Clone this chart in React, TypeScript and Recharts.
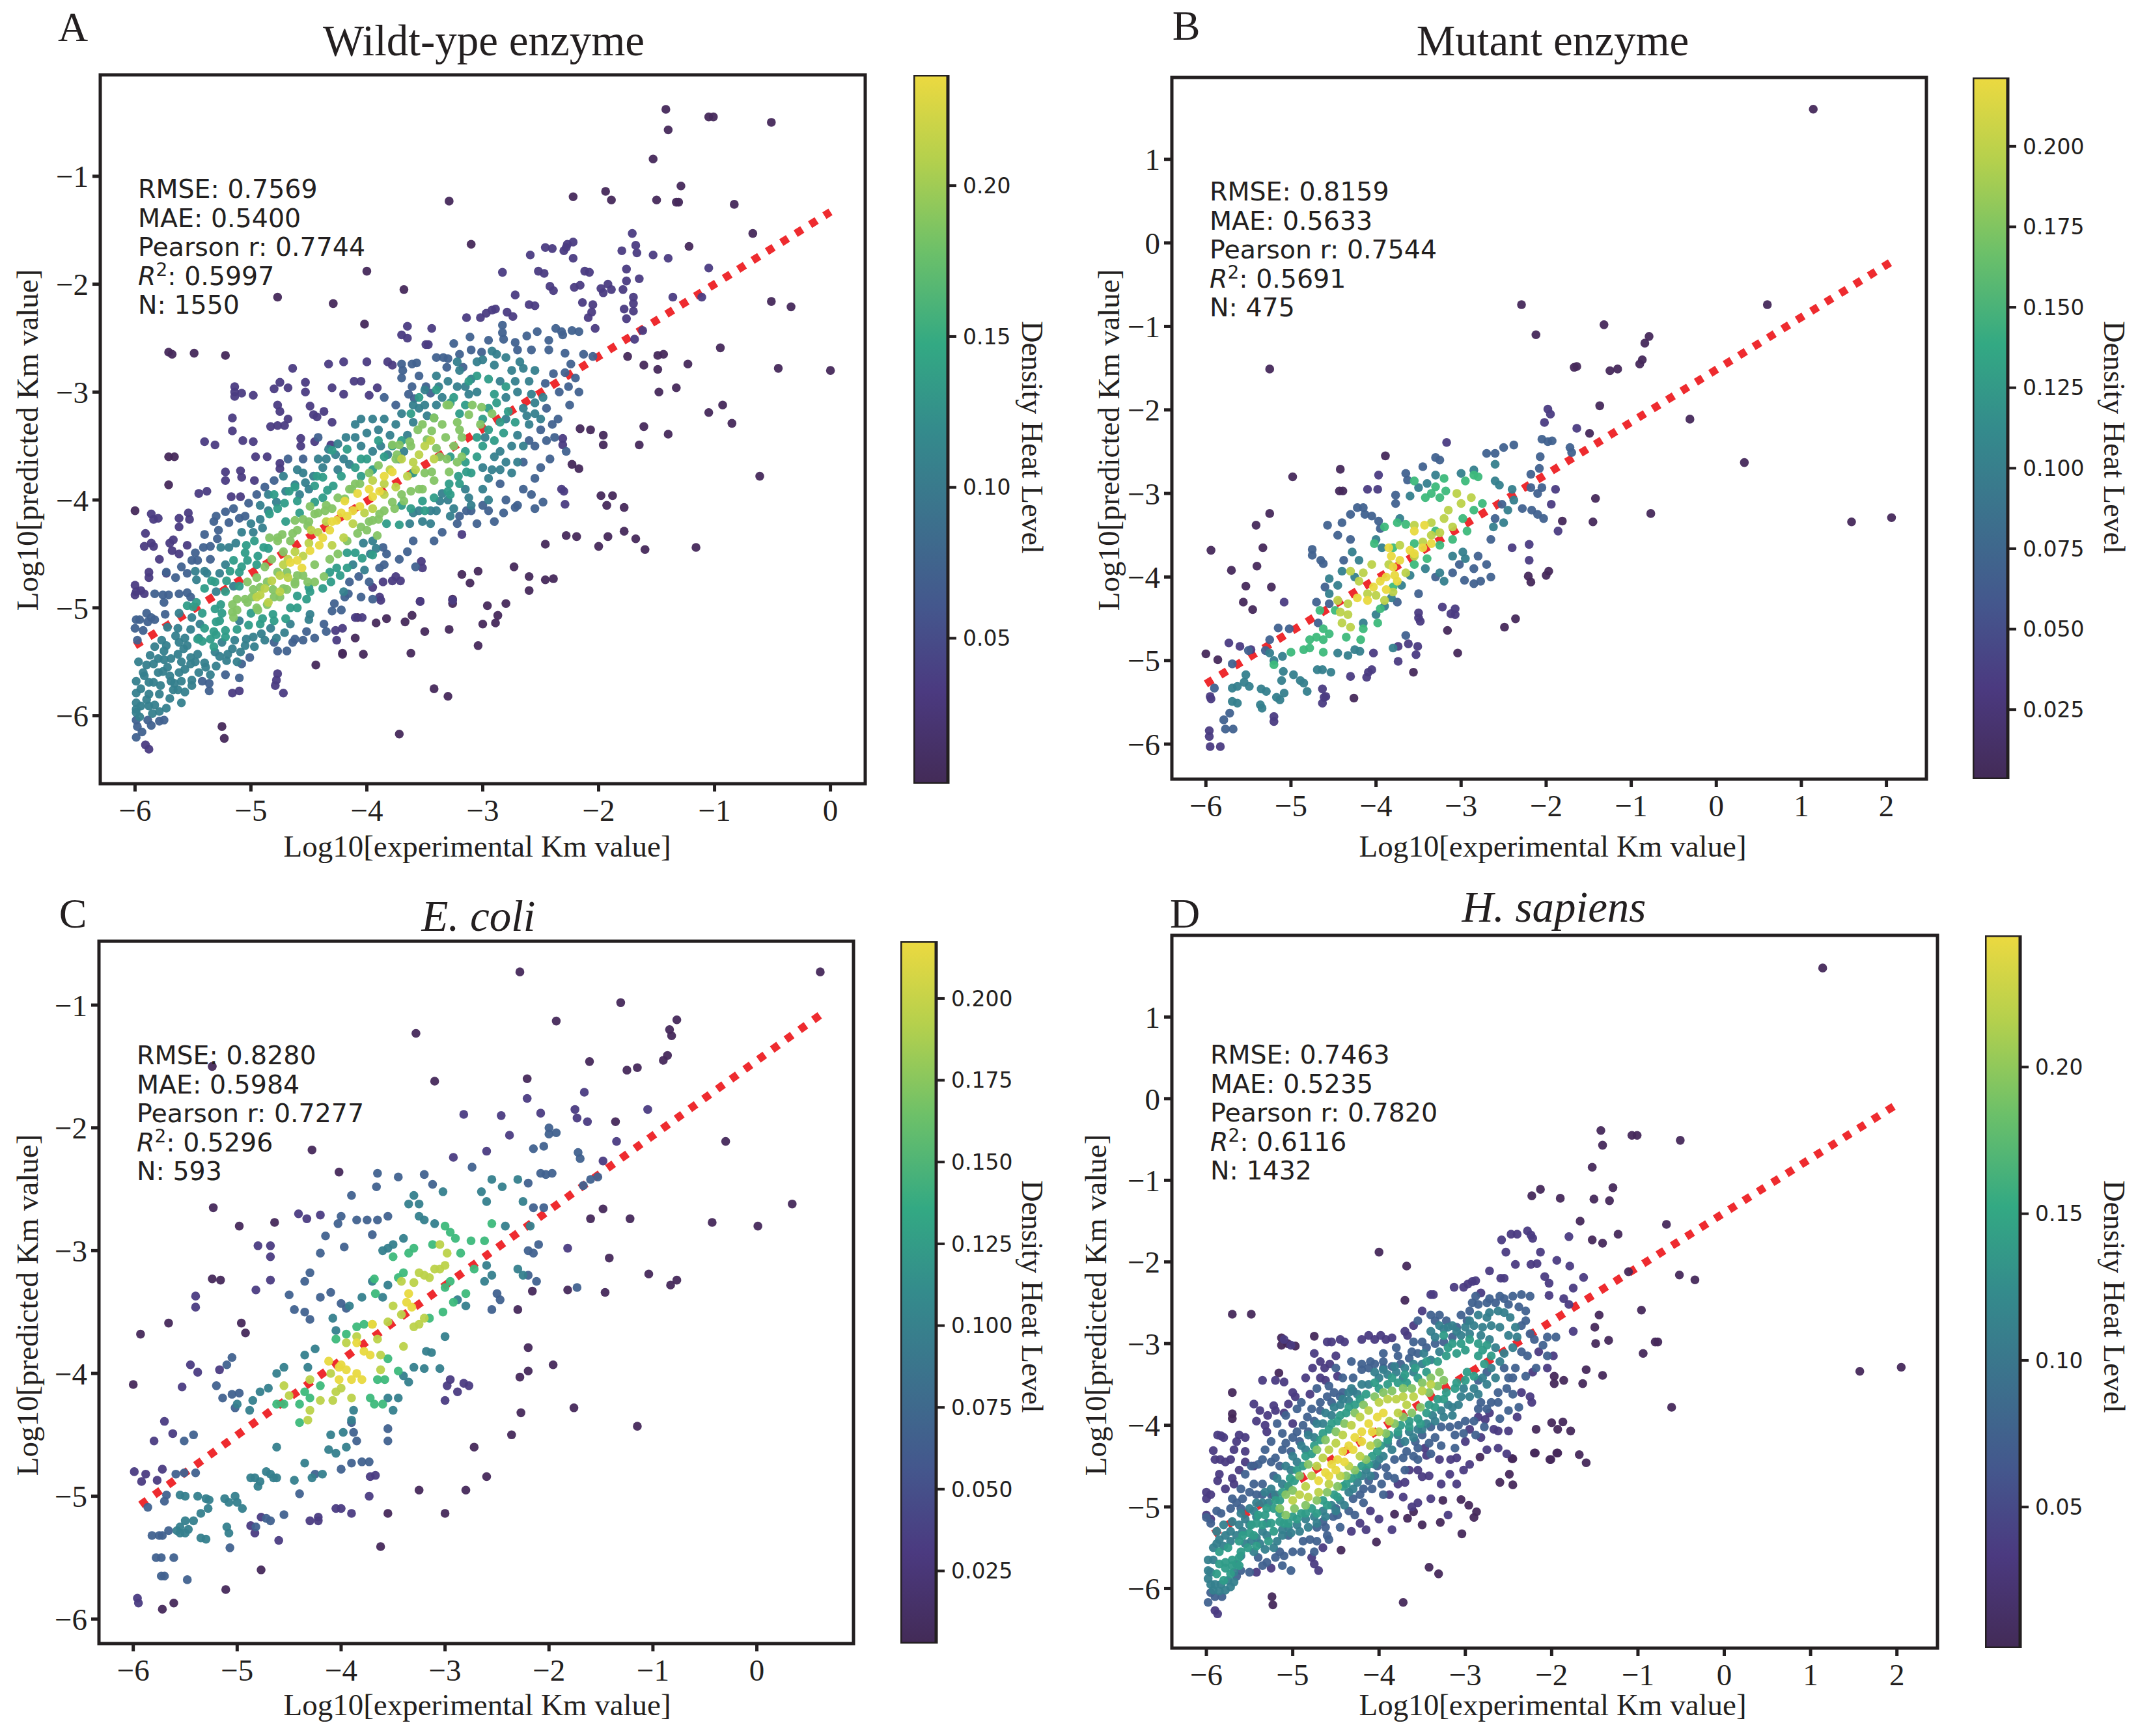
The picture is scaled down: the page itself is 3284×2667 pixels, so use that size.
import { ScatterChart, Scatter, BarChart, Bar, XAxis, YAxis, ReferenceLine, ReferenceArea } from 'recharts';

type Pt = [number, number];

// density colours, low to high (viridis as it prints in the figure)
const BAND_COLORS = ['#46295b', '#4b3c82', '#41628f', '#35808d', '#2f9c88', '#3db97b', '#84c465', '#bcd24a', '#e8d93f'];
const INK = '#231f20';
const LINE_RED = '#ee2b2f';

// ── Wild-type ──
const wildDark: Pt[] = [[-1.42,-.38],[-1.05,-.45],[-1.01,-.45],[-.51,-.5],[-1.4,-.57],[-1.53,-.84],[-1.29,-1.09],[-1.94,-1.14],[-1.89,-1.22],[-2.22,-1.19],[-3.29,-1.23],[-1.5,-1.22],[-1.33,-1.24],[-1.31,-1.24],[-.83,-1.26],[-.67,-1.53],[-3.1,-1.63],[-1.22,-1.65],[-4,-1.88],[-4.77,-2.12],[-4.29,-2.18],[-.51,-2.16],[-.34,-2.21],[-3.68,-2.05],[-4.02,-2.37],[-.95,-2.59],[-5.71,-2.63],[-5.68,-2.65],[-5.49,-2.64],[-5.22,-2.66],[-1.44,-2.65],[-1.49,-2.66],[-1.75,-2.67],[-1.23,-2.74],[-1.61,-2.75],[-1.49,-2.79],[-.45,-2.78],[0,-2.8],[-.93,-3.12],[-1.05,-3.19],[-.85,-3.29],[-1.33,-2.96],[-1.48,-3],[-1.61,-3.32],[-1.4,-3.39],[-1.65,-3.49],[-.61,-3.78],[-1.96,-3.49],[-1.96,-3.4],[-2.07,-3.35],[-2.16,-3.34],[-2.23,-3.67],[-2.17,-3.71],[-1.98,-3.96],[-1.88,-3.96],[-1.93,-4.05],[-1.78,-4.07],[-1.78,-4.29],[-1.68,-4.36],[-1.6,-4.46],[-1.16,-4.44],[-1.92,-4.34],[-2,-4.43],[-2.19,-4.34],[-2.28,-4.33],[-2.46,-4.41],[-2.73,-4.62],[-3.18,-4.69],[-3.04,-4.66],[-3.11,-4.77],[-2.6,-4.71],[-2.46,-4.74],[-2.39,-4.73],[-2.6,-4.84],[-3.26,-4.92],[-3.26,-4.96],[-2.8,-4.96],[-2.96,-4.98],[-2.87,-5.07],[-2.89,-5.14],[-3,-5.15],[-3.29,-5.2],[-3.04,-5.35],[-3.42,-5.75],[-3.3,-5.82],[-3.72,-6.17],[-5.25,-6.1],[-5.23,-6.21],[-3.62,-5.42],[-3.5,-5.22],[-3.61,-5.07],[-3.67,-5.13],[-3.54,-4.94],[-3.83,-5.1],[-3.92,-5.14],[-4.03,-5.43],[-4.1,-5.28],[-4.08,-5.09],[-4.21,-5.42],[-4.21,-5.43],[-4.44,-5.53],[-6,-4.1],[-5.71,-3.6],[-5.66,-3.6],[-5.71,-3.86]];
const wildPurple: Pt[] = [[-1.71,-1.53],[-1.68,-1.64],[-1.67,-1.71],[-1.8,-1.69],[-1.53,-1.73],[-1.4,-1.76],[-2.59,-1.73],[-2.46,-1.66],[-2.4,-1.67],[-2.3,-1.69],[-2.27,-1.63],[-2.22,-1.61],[-2.28,-1.66],[-2.22,-1.76],[-2.83,-1.89],[-1.05,-1.85],[-1.76,-1.86],[-2.52,-1.88],[-2.47,-1.9],[-2.12,-1.88],[-2.08,-1.89],[-1.65,-1.95],[-1.76,-1.97],[-1.92,-2],[-2.21,-2.03],[-2.16,-2.01],[-2.42,-2.02],[-2.39,-2.06],[-1.98,-2.04],[-1.96,-2.08],[-1.89,-2.05],[-1.79,-2.05],[-1.7,-2.12],[-1.36,-2.12],[-1.11,-2.12],[-2.72,-2.1],[-2.6,-2.19],[-2.55,-2.2],[-2.14,-2.17],[-2.05,-2.19],[-1.78,-2.23],[-1.7,-2.25],[-1.7,-2.18],[-2.06,-2.26],[-2.09,-2.31],[-3.02,-2.31],[-2.97,-2.27],[-2.92,-2.24],[-2.89,-2.23],[-2.79,-2.26],[-2.74,-2.3],[-3.14,-2.31],[-1.76,-2.32],[-3.65,-2.39],[-3.44,-2.41],[-3.7,-2.47],[-3.65,-2.5],[-3.49,-2.56],[-3.47,-2.56],[-2.03,-2.41],[-1.62,-2.43],[-1.69,-2.51],[-4.64,-2.78],[-4.33,-2.74],[-4.2,-2.72],[-4,-2.72],[-3.82,-2.72],[-3.78,-2.75],[-5.14,-2.95],[-5.14,-3],[-5.14,-3.04],[-5.08,-3.01],[-4.98,-3.03],[-4.8,-2.97],[-4.75,-2.91],[-4.68,-2.96],[-4.53,-2.91],[-4.53,-3],[-4.3,-2.96],[-4.2,-3.02],[-4.11,-2.9],[-4.05,-2.9],[-3.91,-2.96],[-3.98,-3.03],[-4.77,-3.12],[-4.75,-3.18],[-4.49,-3.13],[-4.46,-3.21],[-4.43,-3.23],[-4.37,-3.18],[-4.3,-3.28],[-4.68,-3.25],[-4.83,-3.32],[-4.77,-3.31],[-4.71,-3.31],[-5.16,-3.24],[-5.16,-3.36],[-5.4,-3.46],[-5.31,-3.49],[-5.07,-3.45],[-4.98,-3.46],[-4.86,-3.6],[-4.96,-3.6],[-4.57,-3.43],[-4.57,-3.5],[-4.45,-3.46],[-4.31,-3.49],[-4.75,-3.66],[-4.75,-3.71],[-5.22,-3.74],[-5.09,-3.73],[-5.08,-3.79],[-5.22,-3.82],[-4.97,-3.82],[-5.45,-3.94],[-5.38,-3.92],[-5.17,-3.97],[-5.09,-3.97],[-5.86,-4.13],[-5.84,-4.18],[-5.8,-4.17],[-5.54,-4.12],[-5.62,-4.17],[-5.62,-4.25],[-5.53,-4.18],[-5.91,-4.31],[-5.67,-4.37],[-5.7,-4.4],[-5.86,-4.4],[-5.92,-4.43],[-5.84,-4.43],[-5.79,-4.55],[-5.68,-4.47],[-5.62,-4.5],[-5.55,-4.42],[-5.88,-4.67],[-5.88,-4.72],[-5.73,-4.68],[-6,-4.79],[-6,-4.88],[-5.95,-4.84],[-5.92,-4.87],[-5.99,-4.85],[-3.89,-4.9],[-3.88,-4.93],[-3.95,-4.81],[-3.86,-4.76],[-3.78,-4.75],[-3.71,-4.75],[-3.75,-4.71],[-3.53,-4.57],[-3.52,-4.63],[-3.18,-4.32],[-3.54,-4.94],[-3.26,-4.93],[-4.1,-5.09],[-4.04,-5.09],[-4.26,-5.3],[-4.27,-5.21],[-4.21,-5.19],[-4.77,-5.61],[-4.78,-5.67],[-4.79,-5.72],[-4.72,-5.79],[-5.16,-5.79],[-5.1,-5.77],[-5.91,-6.27],[-5.88,-6.31],[-2.31,-3.49],[-2.31,-3.43],[-2.32,-3.9],[-2.3,-3.92],[-2.29,-4.04]];
const wildBlue: Pt[] = [[-2.53,-2.44],[-2.37,-2.41],[-2.32,-2.44],[-2.23,-2.43],[-2.17,-2.44],[-2.31,-2.47],[-2.43,-2.52],[-2.58,-2.61],[-2.43,-2.61],[-2.29,-2.64],[-2.13,-2.65],[-2.05,-2.67],[-2.24,-2.74],[-2.29,-2.82],[-2.2,-2.87],[-2.17,-3],[-2.26,-2.95],[-2.34,-3],[-2.39,-2.83],[-2.46,-2.92],[-2.83,-2.38],[-2.83,-2.45],[-3.11,-2.49],[-2.82,-2.51],[-2.72,-2.54],[-2.7,-2.61],[-3.1,-2.61],[-3.01,-2.63],[-3.4,-2.68],[-3.34,-2.68],[-3.3,-2.69],[-3.31,-2.77],[-3.17,-2.77],[-3.7,-2.74],[-3.61,-2.74],[-3.57,-2.73],[-3.69,-2.8],[-3.7,-2.87],[-3.61,-2.95],[-3.64,-3.02],[-3.49,-2.95],[-3.45,-3.01],[-3.59,-3.06],[-5.99,-5.11],[-5.96,-5.11],[-6,-5.19],[-5.98,-5.3],[-5.86,-5.09],[-5.83,-5.11],[-5.93,-5.21],[-5.89,-5.13],[-5.74,-5.06],[-5.83,-4.87],[-5.76,-4.88],[-5.71,-4.88],[-5.75,-4.95],[-5.62,-4.87],[-5.55,-4.86],[-5.52,-4.9],[-5.46,-4.56],[-5.48,-4.49],[-5.41,-4.44],[-5.35,-4.43],[-5.29,-4.36],[-5.28,-4.28],[-5.51,-4.56],[-5.73,-4.67],[-5.22,-4.11],[-5.3,-4.15],[-5.19,-4.21],[-5.1,-4.17],[-5.05,-4.15],[-5.36,-5.77],[-5.42,-5.68],[-5.36,-5.7],[-5.22,-5.62],[-5.1,-5.65],[-5.08,-5.52],[-5.01,-5.46],[-4.8,-5.32],[-4.77,-5.4],[-4.69,-5.4],[-4.64,-5.32],[-4.62,-5.29],[-4.45,-5.28],[-4.37,-5.15],[-4.3,-5.03],[-4.19,-4.9],[-4.16,-4.87],[-4.28,-4.96],[-4.07,-4.71],[-4.15,-4.76],[-3.98,-4.76],[-3.89,-4.63],[-3.85,-4.6],[-5.99,-6.2],[-5.94,-6.15],[-5.98,-6.1],[-5.99,-6.04],[-2.5,-3.35],[-2.4,-3.3],[-2.45,-3.15],[-2.35,-3.25],[-2.45,-3.45],[-2.55,-3.5],[-2.6,-3.45],[-2.65,-3.65],[-2.55,-3.8],[-2.65,-3.9],[-2.7,-4.05],[-2.85,-3.85],[-2.8,-4],[-2.95,-4.1],[-2.9,-4.2],[-3.1,-4.1],[-3.2,-4.15],[-3,-4.05],[-3.14,-4.1],[-2.72,-4.07],[-3.22,-4.22],[-3.83,-4.5],[-3.86,-4.44],[-5.89,-6.04],[-5.86,-6.09],[-5.79,-6.05],[-5.75,-6.04],[-3.85,-3.05],[-3.75,-3.12],[-3.55,-2.85],[-3.25,-2.55],[-3.2,-2.65],[-2.95,-2.52],[-2.62,-2.48],[-2.25,-3.12],[-2.28,-3.55],[-2.42,-3.62],[-2.5,-3.7],[-2.38,-3.42],[-2.58,-3.95],[-2.48,-4.02],[-2.55,-4.08],[-2.82,-4.12],[-3.05,-4.22],[-3.35,-4.3],[-3.42,-4.38],[-3.6,-4.38],[-3.65,-4.48],[-3.72,-4.55],[-3.58,-4.62],[-4.42,-3.42],[-4.55,-3.62],[-4.68,-3.62],[-4.8,-3.82],[-4.88,-3.88],[-4.95,-3.95],[-5.02,-4.03],[-5.15,-4.08],[-5.32,-4.2],[-5.4,-4.32],[-5.55,-4.68],[-5.65,-4.72],[-5.6,-4.62],[-5.35,-4.55],[-5.9,-5.05],[-4.52,-5.22],[-4.55,-5.3],[-4.35,-5.22],[-4.22,-5.02],[-4.05,-4.9],[-3.95,-4.92]];
const wildTeal: Pt[] = [[-5.99,-5.68],[-5.92,-5.63],[-5.88,-5.69],[-5.84,-5.69],[-5.78,-5.72],[-5.88,-5.8],[-5.99,-5.79],[-5.79,-5.8],[-5.99,-5.88],[-5.99,-5.94],[-5.99,-5.97],[-5.95,-5.91],[-5.88,-5.91],[-5.83,-5.9],[-5.79,-5.96],[-5.73,-5.93],[-5.96,-6.01],[-5.97,-5.5],[-5.9,-5.53],[-5.84,-5.52],[-5.8,-5.47],[-5.87,-5.44],[-5.76,-5.59],[-5.7,-5.63],[-5.69,-5.68],[-5.62,-5.6],[-5.57,-5.57],[-5.52,-5.52],[-5.51,-5.67],[-5.51,-5.72],[-5.67,-5.76],[-5.63,-5.76],[-5.57,-5.78],[-5.7,-5.84],[-5.6,-5.88],[-5.73,-5.35],[-5.77,-5.3],[-5.83,-5.36],[-5.75,-5.4],[-5.69,-5.47],[-5.63,-5.43],[-5.58,-5.38],[-5.62,-5.32],[-5.57,-5.28],[-5.52,-5.2],[-5.51,-5.09],[-5.63,-5.19],[-5.46,-5.43],[-5.52,-5.46],[-5.4,-5.51],[-5.39,-5.55],[-5.3,-5.54],[-5.21,-5.49],[-5.16,-5.38],[-5.2,-5.43],[-5.31,-5.41],[-5.27,-5.45],[-5.09,-5.41],[-5.14,-5.3],[-5.04,-5.29],[-4.97,-5.36],[-4.91,-5.24],[-4.83,-5.19],[-4.71,-5.23],[-4.66,-5.15],[-5.48,-4.66],[-5.4,-4.66],[-5.47,-4.74],[-5.27,-4.68],[-5.26,-4.44],[-5.19,-4.44],[-5.13,-4.4],[-4.49,-5.06],[-4.5,-5.11],[-3.95,-4.38],[-4.03,-4.4],[-3.97,-4.5],[-3,-2.7],[-2.9,-2.75],[-2.85,-2.9],[-2.75,-2.8],[-2.65,-2.78],[-2.55,-2.8],[-2.6,-2.9],[-2.7,-3],[-2.8,-3.05],[-2.65,-3.15],[-2.55,-3.1],[-2.5,-3.25],[-2.6,-3.3],[-2.7,-3.4],[-2.75,-3.5],[-2.85,-3.55],[-2.7,-3.65],[-2.75,-3.75],[-2.95,-3.8],[-3,-3.9],[-2.95,-4],[-3.1,-4.05],[-3.15,-3.9],[-3,-3.7],[-3.2,-2.8],[-3.15,-2.95],[-3.05,-3],[-3.3,-2.9],[-3.4,-2.85],[-3.5,-2.98],[-3.35,-3.05],[-3.55,-3.15],[-3.7,-3.2],[-3.85,-3.25],[-3.95,-3.25],[-4.05,-3.25],[-4.1,-3.3],[-4,-3.38],[-3.9,-3.35],[-3.8,-3.4],[-3.75,-3.3],[-3.6,-3.28],[-3.65,-3.4],[-4.1,-3.42],[-4.05,-3.5],[-4.33,-3.53],[-4.27,-3.58],[-4.2,-3.62],[-4.15,-3.67],[-4.35,-3.62],[-4.38,-3.7],[-4.46,-3.78],[-4.53,-3.84],[-4.62,-3.86],[-4.7,-3.92],[-4.78,-4.02],[-4.85,-4.1],[-4.92,-4.18],[-5,-4.22],[-4.9,-4.26],[-3.35,-3.94],[-3.4,-4.1],[-3.52,-4.2],[-3.63,-4.22],[-3.37,-4.01],[-3.6,-4.12],[-5.95,-5.75],[-5.9,-5.85],[-5.85,-5.98],[-5.93,-5.6],[-5.8,-5.6],[-5.72,-5.55],[-5.66,-5.7],[-5.6,-5.68],[-5.75,-5.48],[-5.6,-5.5],[-5.55,-5.35],[-5.65,-5.26],[-5.45,-5.6],[-5.48,-5.5],[-5.35,-5.62],[-5.12,-5.5],[-5.25,-5.32],[-5.05,-5.35],[-4.88,-5.3],[-4.78,-5.28],[-4.98,-5.27],[-5.44,-5.15],[-5.38,-4.68],[-5.3,-4.85],[-5.22,-4.6],[-5.15,-4.8],[-5.08,-4.3],[-4.98,-4.3],[-4.92,-4.05],[-4.85,-3.95],[-4.72,-3.78],[-4.6,-3.72],[-4.58,-3.95],[-4.5,-3.9],[-4.25,-3.72],[-3.95,-3.55],[-3.72,-3.62],[-3.82,-3.58],[-3.55,-4.1],[-3.45,-4.1],[-3.3,-4],[-3.25,-4.08],[-4.2,-4.85],[-4.12,-4.6],[-4.02,-4.65],[-3.92,-4.45],[-2.9,-3.6],[-2.8,-3.65],[-2.65,-3.5],[-2.58,-3.02],[-2.48,-3.05],[-2.72,-2.9],[-2.88,-2.65],[-3.05,-2.72],[-3.22,-2.95],[-3.12,-3.02],[-3.5,-3.12],[-3.6,-3.12],[-3.4,-3.12],[-2.98,-3.42],[-2.92,-3.72],[-2.85,-3.72],[-2.8,-3.25],[-2.62,-3.22],[-2.55,-3.2],[-2.92,-2.62],[-2.8,-2.68],[-2.68,-2.72],[-3.1,-2.88],[-3.22,-2.72],[-3.38,-2.95],[-3.48,-3.22],[-3.68,-3.55],[-3.88,-3.5],[-4.18,-3.42],[-4.25,-3.48],[-4.42,-3.62],[-4.55,-3.75],[-3.45,-4.22],[-3.28,-4.15],[-3.12,-3.98],[-5.62,-5.05],[-5.72,-5.18],[-5.45,-5.28],[-5.1,-5.12]];
const wildSea: Pt[] = [[-5.46,-5.29],[-5.42,-5.31],[-5.32,-5.36],[-5.35,-5.29],[-5.4,-5.19],[-5.32,-5.22],[-5.22,-5.21],[-5.22,-5.27],[-5.3,-5.13],[-5.27,-5.12],[-5.31,-5.01],[-5.26,-4.97],[-5.42,-5.05],[-5.5,-4.99],[-5.55,-4.98],[-5.47,-4.95],[-5.4,-4.82],[-5.34,-4.75],[-5.31,-4.76],[-5.21,-4.75],[-5.18,-4.66],[-5.1,-4.67],[-5.15,-4.56],[-5.03,-4.56],[-5.05,-4.49],[-5.04,-4.42],[-4.97,-4.38],[-4.94,-4.52],[-4.89,-4.44],[-4.84,-4.13],[-4.77,-4.08],[-4.8,-3.95],[-4.67,-3.92],[-4.6,-4.01],[-4.71,-4.03],[-4.43,-3.78],[-4.38,-3.79],[-4.17,-3.53],[-4.3,-3.54],[-4.45,-3.87],[-4.34,-3.91],[-4.29,-3.87],[-3.83,-4.22],[-3.72,-4.23],[-3.52,-4.01],[-3.29,-3.85],[-3.21,-3.78],[-3.14,-3.74],[-3.95,-4.51],[-4.04,-4.54],[-4.1,-4.49],[-4.17,-4.49],[-4.17,-4.63],[-4.26,-4.63],[-4.32,-4.67],[-4.23,-4.7],[-4.31,-4.76],[-4.38,-4.82],[-4.49,-4.85],[-4.5,-4.81],[-4.66,-5],[-4.6,-4.89],[-4.81,-5.06],[-4.92,-5.15],[-5.02,-5.16],[-5.12,-5.2],[-2.9,-3.02],[-2.95,-3.15],[-3,-3.25],[-2.85,-3.28],[-2.82,-3.38],[-2.9,-3.45],[-3,-3.5],[-3.05,-3.6],[-3.15,-3.55],[-3.1,-3.75],[-3.2,-3.85],[-3.28,-3.95],[-3.42,-3.24],[-3.25,-3.05],[-3.15,-3.12],[-3.4,-2.98],[-3.9,-3.45],[-3.78,-3.5],[-3.7,-3.45],[-3.85,-3.6],[-4,-3.62],[-4.1,-3.7],[-4.05,-3.78],[-3.6,-3.75],[-3.05,-2.85],[-2.95,-2.88],[-2.8,-2.95],[-3.28,-3.1],[-5.3,-5.25],[-5.25,-5.05],[-5.22,-4.85],[-5.1,-4.8],[-5,-5.05],[-4.9,-5.1],[-4.8,-5.12],[-4.7,-5.1],[-4.6,-5],[-4.52,-4.92],[-5.08,-4.62],[-4.95,-4.6],[-4.85,-4.45],[-4.7,-4.2],[-4.58,-4.12],[-4.62,-3.88],[-4.45,-4.02],[-4.38,-3.98],[-4.22,-3.78],[-4.05,-3.62],[-3.95,-3.72],[-3.7,-4.05],[-3.62,-4.08],[-3.5,-4.1],[-3.42,-3.98],[-3.3,-3.92],[-3.28,-3.6],[-3.15,-3.65],[-3.05,-3.42],[-2.95,-3.35],[-2.88,-3.1],[-2.78,-3.18],[-2.72,-3.28],[-3.12,-2.9],[-3.2,-3.2],[-3.55,-3.05],[-3.62,-3.2]];
const wildGreen: Pt[] = [[-5.12,-4.92],[-5.16,-5.04],[-5.15,-5.09],[-5.03,-4.76],[-4.98,-4.83],[-4.84,-4.35],[-4.77,-4.38],[-4.73,-4.32],[-4.64,-4.31],[-4.62,-4.19],[-4.49,-4.06],[-4.45,-4.76],[-4.37,-4.71],[-4.51,-4.76],[-3.91,-4.33],[-3.29,-3.74],[-3.22,-3.65],[-3.37,-3.6],[-3.52,-3.3],[-3.44,-3.36],[-3.72,-3.49],[-3.78,-3.49],[-3.56,-3.35],[-3.42,-3.24],[-3.31,-3.12],[-3.09,-3.12],[-3.12,-3.21],[-3.01,-3.14],[-3.29,-3.12],[-3.02,-3.3],[-2.92,-3.2],[-3.18,-3.42],[-3.25,-3.5],[-4.55,-4.18],[-4.5,-4.2],[-4.42,-4.12],[-4.35,-4.05],[-4.25,-3.98],[-4.15,-3.9],[-4.1,-3.85],[-3.98,-3.75],[-3.9,-3.68],[-3.75,-3.62],[-3.62,-3.5],[-4.05,-4.25],[-3.98,-4.2],[-3.9,-4.18],[-3.85,-4.1],[-3.78,-4.02],[-3.7,-3.95],[-3.62,-3.92],[-3.52,-3.9],[-3.42,-3.82],[-3.5,-3.75],[-4.25,-4.5],[-4.32,-4.55],[-4.45,-4.6],[-4.55,-4.7],[-4.62,-4.78],[-4.72,-4.82],[-4.8,-4.9],[-4.95,-5],[-5.05,-4.92],[-4.95,-4.72],[-4.88,-4.62],[-4.82,-4.55],[-4.72,-4.48],[-3.32,-3.42],[-3.4,-3.52],[-5.12,-5.02],[-5.16,-4.97],[-5.03,-4.95],[-4.99,-4.9],[-4.92,-4.81],[-4.86,-4.76],[-4.81,-4.83],[-4.75,-4.9],[-4.69,-4.83],[-4.62,-4.76],[-4.94,-5.02],[-4.86,-4.97],[-4.77,-4.67],[-4.69,-4.67],[-4.6,-4.7],[-4.77,-4.35],[-4.66,-4.38],[-4.6,-4.28],[-4.51,-4.24],[-4.45,-4.13],[-4.36,-4.1],[-4.3,-4.08],[-4.19,-3.99],[-4.13,-3.9],[-4.06,-3.85],[-3.74,-3.58],[-3.63,-3.46],[-3.48,-3.44],[-3.35,-3.3],[-3.22,-3.28],[-3.2,-3.35],[-4.17,-4.38],[-4.08,-4.31],[-4,-4.28],[-3.95,-4.19],[-3.89,-4.13],[-3.76,-4.08],[-3.68,-4.01],[-3.55,-3.9],[-3.44,-3.74],[-3.31,-3.62],[-3.18,-3.6]];
const wildLime: Pt[] = [[-4.95,-4.9],[-4.88,-4.82],[-4.82,-4.75],[-4.75,-4.7],[-4.68,-4.72],[-4.75,-4.85],[-4.85,-4.95],[-4.92,-4.88],[-4.72,-4.6],[-4.62,-4.48],[-4.55,-4.52],[-4.5,-4.4],[-4.68,-4.55],[-4.42,-4.3],[-4.35,-4.2],[-4.48,-4.28],[-3.95,-3.82],[-3.85,-3.85],[-3.8,-3.72],[-3.7,-3.62],[-3.6,-3.65],[-3.55,-3.58],[-3.5,-3.5],[-3.45,-3.45],[-3.65,-3.78],[-3.75,-3.88],[-3.85,-3.95],[-3.95,-4.08],[-4.02,-4.12],[-4.12,-4.22],[-4.2,-4.35],[-4.3,-4.42],[-3.58,-3.72],[-3.42,-3.62]];
const wildYellow: Pt[] = [[-4.6,-4.56],[-4.49,-4.47],[-4.41,-4.42],[-4.56,-4.63],[-4.66,-4.58],[-4.38,-4.35],[-4.32,-4.28],[-4.26,-4.19],[-4.17,-4.15],[-4.06,-4.06],[-3.95,-3.97],[-3.89,-3.92],[-3.98,-3.9],[-4.08,-3.94],[-4.19,-4.01],[-4.12,-4.1],[-4.22,-4.12],[-4.3,-4.2],[-3.85,-3.78],[-3.78,-3.74]];

// ── Mutant ──
const mutantDark: Pt[] = [[1.14,1.6],[1.59,-3.34],[2.06,-3.29],[.6,-.74],[.33,-2.63],[-.31,-2.11],[-.77,-3.24],[-2.29,-.74],[-2.12,-1.1],[-1.32,-.98],[-.79,-1.12],[-.84,-1.2],[-.87,-1.4],[-.9,-1.45],[-1.16,-1.51],[-1.25,-1.53],[-1.64,-1.48],[-1.67,-1.49],[-5.25,-1.51],[-1.37,-1.95],[-1.42,-3.06],[-1.45,-3.34],[-3.89,-2.55],[-4.98,-2.8],[-4.42,-2.71],[-4.43,-2.97],[-4.39,-2.97],[-5.25,-3.24],[-5.41,-3.38],[-5.94,-3.68],[-5.33,-3.65],[-5.4,-3.87],[-5.7,-3.92],[-5.53,-4.11],[-5.23,-4.12],[-5.56,-4.3],[-5.45,-4.39],[-2.49,-4.6],[-2.36,-4.5],[-2.18,-4.06],[-2.21,-3.99],[-1.97,-3.93],[-2,-3.98],[-3.16,-4.64],[-3.04,-4.91],[-4.26,-5.45],[-3.56,-5.14],[-6,-4.92],[-5.86,-4.99],[-1.81,-3.33],[-1.49,-2.28]];
const mutantPurple: Pt[] = [[-1.98,-1.99],[-1.95,-2.05],[-2.02,-2.15],[-1.64,-2.22],[-1.86,-3.45],[-1.94,-3.13],[-1.89,-2.95],[-3.17,-2.39],[-3.97,-2.78],[-4.1,-2.95],[-3.98,-2.95],[-5.08,-4.3],[-2.2,-3.61],[-2.2,-3.8],[-2.4,-3.65],[-3.07,-4.38],[-3.12,-4.44],[-3.07,-4.45],[-3.22,-4.36],[-3.5,-4.43],[-3.5,-4.49],[-3.48,-4.53],[-3.51,-4.83],[-3.53,-4.93],[-3.62,-4.8],[-3.74,-4.83],[-3.74,-5.01],[-4.05,-5.11],[-4.11,-5.2],[-4.09,-5.14],[-4.03,-4.91],[-4.3,-5.19],[-4.63,-5.34],[-4.59,-5.43],[-4.63,-5.51],[-4.61,-5.44],[-5.73,-4.79],[-5.6,-4.83],[-5.47,-4.87],[-5.95,-6.03],[-5.83,-6.03],[-5.96,-5.84],[-5.96,-5.91],[-5.94,-5.46],[-5.95,-5.43],[-5.2,-5.67],[-5.2,-5.73]];
const mutantBlue: Pt[] = [[-5.69,-5.04],[-5.77,-5.82],[-5.68,-5.82],[-5.79,-5.71],[-5.72,-5.63],[-5.9,-5.33],[-1.72,-2.45],[-1.7,-2.51],[-2.05,-2.35],[-1.98,-2.38],[-1.93,-2.37],[-2.07,-2.56],[-2.08,-2.7],[-2.18,-2.77],[-2.38,-2.42],[-2.5,-2.45],[-2.6,-2.52],[-2.7,-2.52],[-3.3,-2.57],[-3.25,-2.6],[-3.45,-2.68],[-3.65,-2.76],[-3.63,-2.84],[-3.77,-3.02],[-3.77,-3.12],[-4.15,-3.17],[-4.22,-3.17],[-4.3,-3.25],[-4.13,-3.25],[-4.05,-3.27],[-3.97,-3.33],[-3.95,-3.42],[-4.4,-3.35],[-4.57,-3.38],[-4.45,-3.5],[-4.3,-3.55],[-4.75,-3.67],[-4.75,-3.74],[-4.65,-3.8],[-4.62,-3.84],[-4.38,-3.8],[-2.1,-3],[-2.05,-2.93],[-2.18,-2.93],[-2.28,-3.18],[-2.17,-3.2],[-2.1,-3.25],[-2.03,-3.3],[-2.52,-3.13],[-2.6,-3.3],[-2.65,-3.55],[-2.8,-3.75],[-2.7,-3.85],[-2.65,-4],[-2.85,-4.08],[-2.77,-4.05],[-3.1,-3.95],[-3.02,-3.85],[-2.96,-4.04],[-2.85,-3.9],[-3.3,-4],[-3.5,-4.2],[-4.6,-4.12],[-4.7,-4.3],[-4.55,-4.32],[-4.68,-4.55],[-3.75,-4.3],[-3.65,-4.7],[-5.5,-4.88],[-5.3,-4.88],[-5.25,-4.75],[-5.15,-4.61],[-5.02,-4.62]];
const mutantTeal: Pt[] = [[-5.53,-5.17],[-5.55,-5.26],[-5.69,-5.33],[-5.63,-5.31],[-5.49,-5.31],[-5.69,-5.49],[-5.63,-5.51],[-5.35,-5.34],[-5.29,-5.37],[-5.36,-5.53],[-5.34,-5.57],[-5.17,-5.44],[-5.13,-5.47],[-5.08,-5.39],[-5.11,-5.24],[-5.09,-5.13],[-4.97,-5.17],[-4.89,-5.24],[-4.85,-5.27],[-4.81,-5.37],[-4.69,-5.11],[-4.63,-5.11],[-4.53,-5.14],[-4.45,-4.91],[-4.33,-4.94],[-4.25,-4.87],[-4.19,-4.89],[-5.25,-4.91],[-5.2,-5],[-5.1,-4.95],[-3.6,-3.98],[-3.42,-3.9],[-3.25,-3.95],[-3.2,-4.05],[-3.1,-3.75],[-2.95,-3.78],[-2.98,-3.7],[-2.6,-2.85],[-2.55,-2.9],[-2.4,-2.95],[-2.38,-3.08],[-2.45,-3.2],[-2.62,-3.4],[-2.5,-3.35],[-2.6,-2.65],[-2.85,-2.72],[-3,-2.76],[-3.3,-2.78],[-3.4,-2.88],[-3.5,-2.93],[-3.6,-3.03],[-3.72,-3.3],[-4,-3.55],[-3.93,-3.65],[-4.2,-3.8],[-4.25,-4],[-4.4,-3.93],[-4.28,-3.7],[-4.55,-4.02],[-4.55,-4.2],[-4.45,-4.1],[-4.15,-4.55],[-3.9,-4.35],[-3.82,-4.25],[-3.7,-4.1],[-3.8,-4.85],[-4,-4.45]];
const mutantGreen: Pt[] = [[-4.85,-4.87],[-4.78,-4.85],[-4.7,-4.72],[-4.78,-4.75],[-4.62,-4.9],[-5.2,-5.05],[-5,-4.9],[-4.62,-4.62],[-4.55,-4.68],[-4.62,-4.75],[-4.66,-4.4],[-4.48,-4.4],[-4.35,-4.72],[-4.18,-4.75],[-4.15,-4.62],[-3.98,-4.55],[-3.95,-4.38],[-3.8,-4.12],[-3.55,-3.85],[-3.4,-3.78],[-3.25,-3.62],[-3.1,-3.55],[-2.98,-3.3],[-2.93,-3.45],[-2.85,-3.2],[-3.2,-2.82],[-3.3,-2.92],[-3.35,-3],[-3.25,-3.05],[-3.42,-3.05],[-3.18,-2.97],[-3.55,-2.85],[-2.95,-2.85],[-2.85,-2.78],[-2.8,-2.8],[-2.75,-3.12],[-3.9,-3.4],[-3.75,-3.35],[-3.65,-3.37],[-4.02,-3.6],[-3.8,-3.65],[-3.55,-3.6],[-3.3,-3.45]];
const mutantLime: Pt[] = [[-4.42,-4.42],[-4.33,-4.45],[-4.3,-4.6],[-4.4,-4.55],[-4.1,-4.2],[-4,-4.22],[-3.9,-4.28],[-3.8,-4.18],[-4.3,-3.93],[-4.15,-3.95],[-4.05,-3.85],[-4.2,-4.05],[-4.45,-4.28],[-4.33,-4.32],[-3.65,-3.95],[-3.55,-3.75],[-3.45,-3.58],[-3.35,-3.5],[-3.2,-3.3],[-3.15,-3.2],[-3.05,-3],[-3,-3.12],[-2.88,-3.05],[-3.1,-3.4],[-3.55,-3.38],[-3.35,-3.35],[-3.25,-3.47],[-3.72,-3.62],[-3.85,-3.85]];
const mutantYellow: Pt[] = [[-3.85,-3.65],[-3.82,-3.75],[-3.72,-3.8],[-3.6,-3.68],[-3.55,-3.72],[-3.45,-3.65],[-3.8,-3.88],[-3.78,-3.98],[-3.88,-4],[-3.95,-4.05],[-4.03,-4.12],[-4.1,-4.28],[-4.22,-4.25],[-3.88,-4.15],[-3.75,-4.05],[-3.55,-3.45],[-3.43,-3.38],[-3.35,-3.6]];

// ── E. coli ──
const coliDark: Pt[] = [[.61,-.73],[-2.28,-.73],[-1.31,-.98],[-1.93,-1.13],[-.77,-1.12],[-.84,-1.2],[-.82,-1.25],[-3.28,-1.23],[-.86,-1.41],[-.9,-1.45],[-1.15,-1.51],[-1.25,-1.53],[-1.61,-1.46],[-5.24,-1.5],[-2.21,-1.6],[-3.1,-1.62],[-1.36,-1.95],[-.3,-2.11],[-4.28,-2.18],[-4.02,-2.36],[.34,-2.62],[-.43,-2.77],[.01,-2.8],[-1.48,-2.66],[-1.22,-2.74],[-1.6,-2.74],[-1.42,-3.06],[-1.04,-3.19],[-.83,-3.28],[-.77,-3.24],[-1.46,-3.34],[-1.82,-3.32],[-2.2,-3.79],[-1.96,-3.93],[-2.2,-3.98],[-2.28,-4.03],[-1.76,-4.28],[-2.27,-4.32],[-1.15,-4.43],[-2.36,-4.5],[-2.72,-4.6],[-2.6,-4.84],[-2.8,-4.95],[-3.25,-4.95],[-3,-5.14],[-3.55,-5.14],[-3.62,-5.41],[-4.77,-5.6],[-5.11,-5.76],[-5.72,-5.92],[-5.61,-5.87],[-6,-4.09],[-5.93,-3.68],[-5.66,-3.59],[-4.96,-3.59],[-4.92,-3.67],[-5.24,-3.23],[-5.16,-3.24],[-5.23,-2.65],[-4.98,-2.8],[-4.64,-2.77],[-2.3,-3.48],[-2.16,-3.33]];
const coliPurple: Pt[] = [[-2.21,-1.76],[-2.82,-1.89],[-2.46,-1.9],[-2.08,-1.88],[-1.66,-1.71],[-1.75,-1.85],[-1.73,-1.92],[-1.63,-1.95],[-1.05,-1.85],[-1.35,-2.11],[-2.38,-2.06],[-2.6,-2.19],[-2.92,-2.24],[-1.48,-2.27],[-1.82,-2.98],[-5.4,-3.46],[-5.4,-3.37],[-4.68,-3.24],[-4.82,-3.32],[-4.8,-2.96],[-4.68,-2.96],[-4.68,-3.05],[-4.41,-2.7],[-4.33,-2.74],[-4.2,-2.71],[-3.73,-5],[-3.67,-4.83],[-5.96,-5.83],[-5.95,-5.87],[-5.45,-3.93],[-5.38,-3.99],[-5.53,-4.11],[-5.17,-3.97],[-5.7,-4.39],[-5.8,-4.55],[-5.62,-4.49],[-5.99,-4.8],[-5.92,-4.88],[-5.88,-4.82],[-5.77,-4.87],[-5.72,-4.78],[-3.72,-4.84],[-2.95,-4.05],[-2.98,-4.1],[-3,-4.22],[-2.88,-4.15],[-2.82,-4.08],[-2.77,-4.1],[-4.3,-5.2],[-4.22,-5.17],[-4.22,-5.2],[-4.05,-5.1],[-4,-5.1],[-3.9,-5.14],[-4.77,-5.17],[-4.6,-5.36],[-4.87,-5.24],[-4.83,-5.3]];
const coliBlue: Pt[] = [[-5.1,-3.93],[-5.05,-3.87],[-5.51,-4.55],[-5.42,-4.5],[-5.86,-5.09],[-5.68,-4.99],[-5.7,-5.04],[-5.59,-4.82],[-5.51,-4.81],[-5.4,-4.81],[-1.7,-2.25],[-1.72,-2.2],[-1.6,-2.42],[-1.67,-2.47],[-1.53,-2.4],[-2.15,-2.17],[-2.05,-2.15],[-2,-2],[-2,-2.05],[-1.93,-2.04],[-2.08,-2.37],[-2.03,-2.38],[-1.97,-2.37],[-2.74,-2.32],[-2.2,-2.45],[-2.15,-2.65],[-2.05,-2.65],[-3.65,-2.37],[-3.45,-2.4],[-3.2,-2.38],[-3.12,-2.46],[-3.66,-2.48],[-3.9,-2.55],[-4,-2.72],[-4.03,-2.78],[-3.75,-2.75],[-3.85,-2.75],[-3.65,-2.75],[-3.7,-2.87],[-3.55,-2.72],[-4.15,-2.88],[-4.2,-3.02],[-3.97,-2.97],[-4.3,-3.18],[-4.35,-3.25],[-4.2,-3.38],[-4.1,-3.34],[-4.5,-3.36],[-4.45,-3.48],[-4.35,-3.5],[-4.3,-3.56],[-4,-3.43],[-3.95,-3.47],[-1.73,-3.3],[-2.1,-2.95],[-2.15,-3.02],[-2.2,-3],[-2.2,-3.2],[-2.12,-3.25],[-2.55,-3.48],[-2.5,-3.35],[-2.47,-3.4],[-5.02,-4.28],[-5.05,-4.17],[-4.98,-4.16],[-5.2,-4.1],[-5.14,-4.2],[-4.55,-5.15],[-4.68,-5.2],[-4.72,-5.18],[-4.82,-5.25],[-5.48,-5.68],[-5.7,-5.65],[-5.73,-5.65],[-5.78,-5.5],[-5.73,-5.5],[-5.61,-5.5],[-5.82,-5.32],[-5.75,-5.32],[-5.66,-5.28],[-5.72,-5.32],[-5.07,-5.42],[-4.4,-4.98],[-3.8,-4.72],[-3.9,-4.73],[-3.73,-4.72],[-4.25,-4.82],[-3.55,-4.45],[-3.55,-4.55],[-3.9,-4.4],[-3.85,-4.55],[-3.88,-4.48],[-4,-4.78]];
const coliTeal: Pt[] = [[-5.55,-5.3],[-5.5,-5.2],[-5.55,-5.25],[-5.5,-5.3],[-5.47,-5.27],[-5.58,-5.28],[-5.42,-5.2],[-5.35,-5.14],[-5.28,-5.1],[-5.55,-4.99],[-5.5,-5],[-5.38,-5],[-5.3,-5.02],[-5.27,-5.03],[-5.12,-5.02],[-5.08,-5.05],[-5.02,-5],[-5,-5.05],[-5.1,-5.25],[-5.08,-5.3],[-4.95,-5.1],[-5.35,-5.34],[-5.3,-5.35],[-4.62,-4.6],[-4.87,-4.85],[-4.83,-4.85],[-4.78,-4.88],[-4.72,-4.8],[-4.68,-4.82],[-4.65,-4.85],[-4.62,-4.85],[-4.8,-4.92],[-4.45,-4.87],[-4.35,-4.73],[-4.28,-4.85],[-4.18,-4.82],[-4.12,-4.62],[-4.05,-4.65],[-3.95,-4.6],[-4.1,-4.5],[-3.98,-4.48],[-3.9,-4.38],[-3.88,-4.3],[-3.5,-4.3],[-3.55,-4.2],[-3.45,-4.2],[-3.35,-4.07],[-3.4,-4.02],[-3.3,-3.95],[-3.2,-3.96],[-3.05,-3.96],[-3.18,-3.82],[-3,-3.7],[-3.13,-3.83],[-2.88,-3.4],[-2.8,-3.45],[-2.55,-2.42],[-2.45,-2.48],[-2.3,-2.42],[-2.25,-2.6],[-2.18,-2.8],[-2.42,-2.8],[-2.55,-3.2],[-2.62,-3.25],[-2.3,-3.15],[-2.25,-3.2],[-2.6,-3.12],[-3.3,-2.55],[-3.25,-2.62],[-3.2,-2.75],[-3.1,-2.78],[-3.25,-2.72],[-3.35,-2.62],[-3.02,-2.52],[-2.65,-2.52],[-2.6,-2.6],[-3.5,-2.95],[-3.4,-2.9],[-3.55,-2.98],[-3.6,-3],[-3.7,-3.25],[-3.55,-3.28],[-3.6,-3.38],[-3.8,-3.38],[-3.92,-3.45],[-4.08,-3.55],[-4.05,-3.65],[-4.25,-3.8],[-4.35,-3.85],[-4.32,-3.95],[-4.55,-3.95],[-4.62,-4],[-4.7,-4.12],[-4.78,-4.15],[-4.85,-4.22],[-5,-4.25],[-4.88,-4.3]];
const coliGreen: Pt[] = [[-4.4,-4.25],[-4.3,-4.2],[-4.35,-4.15],[-4.55,-4.25],[-4.62,-4.25],[-4.4,-4.4],[-4.2,-4.1],[-3.72,-4.2],[-3.68,-4.25],[-3.6,-4.25],[-3.65,-4.05],[-3.58,-4.05],[-3.45,-3.98],[-3.55,-3.88],[-3.02,-3.5],[-3.15,-3.55],[-2.95,-3.25],[-3,-3.3],[-2.92,-3.42],[-2.8,-3.35],[-2.72,-3.15],[-2.62,-2.92],[-2.75,-2.92],[-2.9,-2.9],[-2.85,-3.02],[-3,-2.8],[-2.95,-2.85],[-3.12,-2.95],[-3.3,-2.98],[-3.35,-3.02],[-3.4,-3.18],[-3.45,-3.22],[-3.68,-3.23],[-3.67,-3.35],[-3.85,-3.62],[-3.78,-3.6],[-3.5,-3.05],[-2.55,-2.78],[-3.95,-3.68],[-4.05,-3.72]];
const coliLime: Pt[] = [[-4.55,-4.1],[-4.5,-4.18],[-4.3,-4.3],[-4.32,-4.38],[-4.2,-4.22],[-4.08,-4.22],[-4,-4.12],[-3.9,-4.2],[-3.62,-3.97],[-3.62,-3.85],[-3.4,-3.78],[-3.3,-3.62],[-3.25,-3.6],[-3.2,-3.55],[-3.2,-3.2],[-3.1,-3.15],[-3.05,-3.15],[-3.15,-3.22],[-3.25,-3.18],[-3.3,-3.26],[-3.42,-3.25],[-3,-3.12],[-3.05,-2.95],[-2.98,-3.02],[-3.85,-3.7],[-3.95,-3.75],[-3.65,-3.72],[-3.7,-3.6],[-3.55,-3.58],[-3.42,-3.52],[-4.3,-4.05],[-4.1,-4],[-4.05,-4.15],[-3.5,-3.45]];
const coliYellow: Pt[] = [[-4.12,-3.9],[-4,-3.93],[-3.95,-3.97],[-3.85,-4],[-3.8,-4.05],[-4.02,-3.95],[-3.85,-3.75],[-3.78,-3.82],[-3.72,-3.85],[-3.7,-3.6],[-3.35,-3.35],[-3.37,-3.42],[-3.32,-3.46],[-3.9,-4.05],[-4.02,-4.05]];

// ── H. sapiens ──
const humanDark: Pt[] = [[-4,-1.88],[-3.68,-2.05],[-3.7,-2.47],[-5.7,-2.64],[-5.48,-2.64],[-5.13,-2.93],[-5.13,-3.02],[-4.97,-3.03],[-5.06,-3],[-4.75,-2.91],[-5.7,-3.6],[-5.7,-3.86],[-5.7,-3.92],[-5.16,-3.36],[-5.24,-6.1],[-5.23,-6.2],[-3.72,-6.17],[-3.42,-5.74],[-3.31,-5.82],[-3.04,-5.33],[-2.9,-5.13],[-2.87,-5.06],[-2.96,-4.98],[-3.05,-4.91],[-3.26,-4.92],[-3.5,-5.22],[-3.29,-5.19],[-3.6,-5.06],[-3.67,-5.14],[-3.82,-5.09],[-4.03,-5.43],[-4.44,-5.53],[-2.6,-4.7],[-2.45,-4.73],[-2.49,-4.6],[-2.83,-4.39],[-2.45,-4.41],[-2.19,-4.34],[-2.01,-4.42],[-1.93,-4.34],[-2.18,-4.05],[-2,-3.97],[-1.93,-4.05],[-1.87,-3.96],[-1.97,-3.4],[-1.97,-3.49],[-1.86,-3.45],[1.14,1.6],[1.57,-3.34],[2.05,-3.29],[-.61,-3.78],[-.94,-3.12],[-.8,-2.98],[-.77,-2.98],[-.96,-2.59],[-.52,-2.16],[-.34,-2.22],[-1.43,-.39],[-1.07,-.45],[-1.01,-.45],[-.51,-.51],[-1.41,-.57],[-1.53,-.84],[-1.29,-1.09],[-2.13,-1.11],[-2.23,-1.19],[-1.9,-1.22],[-1.51,-1.23],[-1.33,-1.25],[-1.67,-1.5],[-.67,-1.54],[-1.23,-1.66],[-1.41,-1.77],[-1.53,-1.73],[-1.11,-2.12],[-1.45,-2.65],[-1.5,-2.8],[-1.49,-3],[-1.34,-2.96],[-1.6,-3.32],[-1.41,-3.39],[-1.64,-3.49],[-1.78,-4.07],[-1.68,-4.36],[-1.6,-4.46],[-1.94,-4.34],[-2.02,-4.42],[-2.2,-4.34],[-2.46,-4.41]];
const humanPurple: Pt[] = [[-5.1,-2.95],[-5.02,-3.02],[-4.6,-2.98],[-4.55,-2.98],[-4.45,-2.95],[-4.4,-2.98],[-4.2,-2.95],[-4.12,-2.9],[-4.05,-2.95],[-3.98,-2.9],[-3.92,-2.95],[-3.85,-2.93],[-3.7,-2.85],[-3.67,-2.9],[-4.75,-3.12],[-4.68,-3.22],[-4.63,-3.3],[-4.77,-3.3],[-4.57,-3.25],[-4.48,-3.4],[-5.35,-3.45],[-5.2,-3.45],[-5.1,-3.47],[-4.8,-3.62],[-4.62,-3.45],[-5.29,-3.88],[-5.38,-3.82],[-5.45,-3.74],[-5.22,-3.76],[-5.2,-3.82],[-5.32,-4],[-5.05,-3.74],[-5,-3.98],[-4.97,-3.65],[-5.87,-4.12],[-5.83,-4.13],[-5.8,-4.15],[-5.92,-4.31],[-5.9,-4.42],[-5.84,-4.42],[-5.72,-4.42],[-5.62,-4.12],[-5.65,-4.2],[-5.55,-4.15],[-5.55,-4.32],[-5.68,-4.3],[-5.55,-4.45],[-5.45,-4.5],[-5.87,-4.68],[-5.7,-4.65],[-5.68,-4.72],[-6,-4.82],[-6,-4.9],[-5.95,-4.85],[-6,-5.1],[-5.95,-5.15],[-3.85,-5.28],[-3.7,-4.7],[-3.78,-4.72],[-3.55,-4.55],[-3.47,-4.28],[-3.45,-4.37],[-3.3,-4.42],[-3.17,-4.42],[-3.1,-4.4],[-3,-4.2],[-2.95,-4.05],[-2.82,-4.15],[-2.77,-3.93],[-2.85,-3.9],[-2.72,-3.85],[-2.67,-4.05],[-2.62,-4.07],[-2.5,-4.07],[-2.35,-3.6],[-2.25,-3.65],[-2.23,-3.72],[-3.2,-5.1],[-3.55,-4.95],[-3.4,-4.9],[-3.5,-4.63],[-3.65,-4.55],[-3.02,-2.31],[-2.97,-2.27],[-2.92,-2.24],[-2.82,-2.38],[-2.88,-2.23],[-3.13,-2.31],[-3.4,-2.4],[-3.37,-2.4],[-2.59,-2.2],[-2.55,-2.2],[-2.72,-2.11],[-2.08,-2.18],[-2.03,-2.26],[-1.63,-2.19],[-1.75,-2.32],[-2.03,-2.41],[-1.86,-2.45],[-1.8,-2.52],[-1.75,-2.85],[-1.98,-3.15],[-2.05,-3.3],[-2.47,-1.66],[-2.4,-1.66],[-2.28,-1.62],[-2.24,-1.67],[-2.22,-1.71],[-2.58,-1.73],[-2.13,-1.88],[-2.53,-1.88],[-2.42,-2.03],[-2.24,-2.03],[-2.17,-2.02],[-1.94,-1.98],[-1.79,-2.05],[-1.8,-1.69],[-4.75,-5.7],[-4.78,-5.62],[-4.7,-5.78],[-5.9,-6.27],[-5.87,-6.31],[-3.28,-4.72],[-3.42,-4.62],[-3.18,-4.6],[-3.02,-4.55],[-3.1,-4.72],[-2.95,-4.48],[-2.75,-4.3],[-2.62,-4.28],[-2.52,-4.35],[-3.62,-5],[-3.72,-4.88],[-3.88,-4.85],[-4.1,-5.05],[-4.22,-5.2],[-4.32,-5.3],[-4.15,-5.28],[-4,-5.15],[-4.65,-5.5],[-5.25,-5.75],[-5.42,-5.8],[-4.5,-3.15],[-4.68,-3.42],[-4.85,-3.42],[-5,-3.6],[-5.1,-3.85],[-5.42,-3.95],[-5.3,-4.08],[-5.78,-4.45],[-5.62,-4.55],[-5.78,-4.78],[-5.85,-4.6],[-3.5,-2.6],[-3.6,-2.78],[-2.4,-3.9],[-2.22,-3.35],[-2.15,-3.1]];
const humanBlue: Pt[] = [[-6,-5.13],[-5.95,-5.2],[-5.88,-5.05],[-5.83,-5.08],[-5.72,-5.02],[-5.65,-4.95],[-5.58,-4.9],[-5.5,-4.82],[-5.42,-4.85],[-5.35,-4.85],[-5.25,-4.85],[-5.7,-4.9],[-5.48,-4.5],[-5.4,-4.48],[-5.35,-4.42],[-5.25,-4.45],[-5.2,-4.4],[-5.12,-4.3],[-5.08,-4.22],[-5,-4.15],[-4.95,-4.08],[-4.88,-4],[-4.83,-3.9],[-4.78,-3.8],[-4.68,-3.72],[-4.6,-3.65],[-4.52,-3.6],[-4.42,-3.6],[-4.3,-3.58],[-4.2,-3.32],[-4.12,-3.3],[-4.05,-3.25],[-3.95,-3.22],[-3.85,-3.28],[-3.75,-3.25],[-3.65,-3.18],[-3.55,-3.12],[-3.45,-3.05],[-3.35,-3],[-3.25,-2.98],[-3.15,-2.92],[-3.1,-2.8],[-3.4,-2.65],[-3.3,-2.65],[-3.05,-2.65],[-2.95,-2.6],[-2.92,-2.5],[-2.85,-2.52],[-2.75,-2.5],[-2.65,-2.5],[-2.55,-2.45],[-2.45,-2.42],[-2.35,-2.4],[-2.25,-2.42],[-2.3,-2.6],[-2.35,-2.78],[-2.25,-2.88],[-2.2,-2.95],[-2.05,-2.92],[-1.95,-2.92],[-2.1,-3.02],[-2.05,-3.15],[-2.18,-3.3],[-2.3,-3.4],[-2.45,-3.42],[-2.55,-3.3],[-2.52,-3.55],[-2.62,-3.6],[-2.7,-3.72],[-2.85,-3.8],[-2.9,-3.95],[-3,-3.95],[-3.08,-4],[-3.12,-4.12],[-3.28,-4.02],[-3.5,-4.12],[-3.58,-4.2],[-3.6,-4.38],[-3.72,-4.4],[-3.9,-4.62],[-3.97,-4.72],[-4.02,-4.5],[-4.12,-4.68],[-4.3,-4.9],[-4.5,-5.02],[-4.53,-5.12],[-4.65,-5.18],[-4.72,-5.25],[-4.8,-5.4],[-5.05,-5.35],[-5.1,-5.6],[-5.2,-5.62],[-5.3,-5.68],[-5.4,-5.62],[-5.6,-5.78],[-5.9,-6.1],[-5.98,-6.17],[-5.95,-6.05],[-5.5,-5.8],[-5.12,-5.72],[-5.02,-5.78],[-4.9,-5.55],[-4.75,-5.55],[-4.6,-5.35],[-4.18,-4.78],[-3.75,-4.22],[-3.4,-4.02],[-2.75,-3.35],[-2.85,-3.45],[-5.6,-5.02],[-5.45,-4.72],[-5.35,-4.72],[-5.22,-4.62],[-5.15,-4.5],[-5.02,-4.32],[-4.92,-4.2],[-4.82,-4.08],[-4.75,-3.95],[-4.68,-3.82],[-4.55,-3.72],[-4.45,-3.65],[-4.3,-3.42],[-4.2,-3.25],[-4.1,-3.22],[-3.95,-3.3],[-3.78,-3.15],[-3.62,-3.1],[-3.5,-2.98],[-3.35,-2.72],[-3.22,-2.72],[-2.98,-2.72],[-2.88,-2.42],[-2.72,-2.45],[-2.6,-2.42],[-2.5,-2.52],[-2.38,-2.55],[-2.3,-2.72],[-2.35,-3.1],[-2.28,-3.15],[-2.42,-3.3],[-2.5,-3.42],[-2.62,-3.72],[-2.75,-3.8],[-2.82,-3.72],[-3.02,-4.1],[-3.18,-4.02],[-3.35,-4.15],[-3.42,-4.22],[-3.55,-4.28],[-3.68,-4.32],[-3.82,-4.42],[-3.92,-4.52],[-4.05,-4.62],[-4.22,-4.85],[-4.35,-5.05],[-4.48,-5.1],[-4.62,-5.25],[-4.88,-5.42],[-5,-5.55],[-5.15,-5.55],[-5.35,-5.72],[-5.65,-5.85],[-5.82,-6.1],[-5.55,-4.6],[-5.6,-4.78],[-5.32,-4.3],[-5.25,-4.2],[-5.12,-4.1],[-5.18,-3.98],[-5.08,-3.88],[-4.95,-3.8],[-4.9,-3.72],[-4.72,-3.55],[-4.58,-3.52],[-4.42,-3.42],[-4.5,-3.3],[-4.32,-3.22],[-3.95,-3.12],[-3.8,-3.05],[-3.6,-2.98],[-3.55,-2.72],[-2.45,-3.62],[-2.38,-3.78],[-2.5,-3.82],[-2.6,-3.92],[-2.78,-4.02],[-2.88,-4.12],[-3.12,-4.28],[-3.28,-4.25],[-3.4,-4.35],[-3.55,-4.42],[-3.7,-4.55],[-3.82,-4.65],[-3.95,-4.85],[-4.08,-4.78],[-4.18,-4.95],[-4.28,-5.1],[-4.45,-5.25],[-4.58,-5.4],[-4.72,-5.42]];
const humanTeal: Pt[] = [[-5.98,-5.65],[-5.98,-5.78],[-5.98,-5.88],[-5.95,-5.95],[-5.92,-6.02],[-5.85,-6.03],[-5.78,-6.02],[-5.72,-5.98],[-5.68,-5.92],[-5.92,-5.5],[-5.85,-5.4],[-5.78,-5.35],[-5.72,-5.3],[-5.62,-5.22],[-5.55,-5.15],[-5.45,-5.05],[-5.35,-4.95],[-5.28,-4.95],[-5.2,-4.85],[-5.12,-4.72],[-5.02,-4.55],[-4.95,-4.45],[-4.85,-4.3],[-4.75,-4.15],[-4.65,-3.98],[-4.55,-3.88],[-4.45,-3.75],[-4.35,-3.7],[-4.25,-3.62],[-4.12,-3.5],[-4,-3.42],[-3.9,-3.38],[-3.8,-3.35],[-3.72,-3.42],[-3.6,-3.35],[-3.5,-3.25],[-3.4,-3.2],[-3.3,-3.1],[-3.4,-2.85],[-3.3,-2.78],[-3.2,-2.8],[-3.1,-2.85],[-3,-2.8],[-2.9,-2.78],[-2.8,-2.8],[-2.7,-2.78],[-2.6,-2.8],[-2.5,-2.9],[-2.4,-2.92],[-2.45,-3.05],[-2.55,-3.12],[-2.6,-3.22],[-2.65,-3.42],[-2.75,-3.5],[-2.85,-3.62],[-2.95,-3.65],[-3.08,-3.75],[-3.15,-3.88],[-3.25,-3.9],[-3.35,-3.95],[-3.45,-3.98],[-3.55,-4.05],[-3.65,-4.08],[-3.78,-4.12],[-3.85,-4.3],[-3.95,-4.38],[-4.05,-4.48],[-4.15,-4.55],[-4.25,-4.7],[-4.35,-4.82],[-4.45,-4.92],[-4.55,-4.98],[-4.65,-5.05],[-4.75,-5.12],[-4.85,-5.15],[-4.95,-5.22],[-5.05,-5.25],[-5.12,-5.35],[-5.22,-5.5],[-5.32,-5.52],[-5.45,-5.55],[-5.6,-5.6],[-5.55,-5.45],[-5.42,-5.38],[-5.35,-5.3],[-3.02,-3.55],[-3.2,-3.75],[-2.72,-2.62],[-2.62,-2.6],[-2.85,-2.65],[-5.95,-5.8],[-5.9,-5.95],[-5.83,-5.95],[-5.75,-5.9],[-5.68,-5.8],[-5.65,-5.7],[-5.92,-5.65],[-5.88,-5.45],[-5.8,-5.48],[-5.72,-5.42],[-5.65,-5.35],[-5.58,-5.3],[-5.5,-5.22],[-5.42,-5.12],[-5.3,-5.2],[-5.38,-5.45],[-5.48,-5.42],[-5.3,-5.35],[-5.18,-5.42],[-5.12,-5.28],[-5.02,-5.32],[-4.92,-5.3],[-4.82,-5.25],[-4.72,-5.2],[-4.62,-5.12],[-4.5,-5.05],[-4.4,-4.98],[-4.3,-4.78],[-4.2,-4.62],[-4.1,-4.62],[-4,-4.42],[-3.9,-4.22],[-3.7,-4.2],[-3.6,-4.15],[-3.5,-4.05],[-3.38,-3.88],[-3.28,-3.82],[-3.15,-3.78],[-3.05,-3.65],[-2.9,-3.55],[-2.8,-3.42],[-2.7,-3.3],[-2.65,-3.05],[-2.72,-2.95],[-2.82,-2.9],[-2.95,-2.88],[-3.05,-2.9],[-3.15,-2.78],[-3.25,-2.82],[-3.35,-2.92],[-3.48,-3.12],[-3.6,-3.25],[-3.7,-3.3],[-3.82,-3.28],[-3.95,-3.32],[-4.05,-3.35],[-4.2,-3.5],[-4.32,-3.55],[-4.42,-3.68],[-4.52,-3.78],[-4.62,-3.85],[-4.72,-3.98],[-4.82,-4.12],[-4.9,-4.25],[-5,-4.38],[-5.08,-4.5],[-5.18,-4.65],[-5.25,-4.78],[-5.32,-4.82],[-5.42,-4.95],[-5.5,-5.02],[-5.6,-5.08],[-5.7,-5.18],[-5.8,-5.22],[-5.88,-5.3],[-4.35,-3.6],[-2.55,-2.62],[-2.48,-2.68],[-2.42,-2.8],[-2.75,-2.68],[-2.95,-2.72]];
const humanSea: Pt[] = [[-5.85,-5.55],[-5.85,-5.7],[-5.88,-5.82],[-5.8,-5.9],[-5.72,-5.82],[-5.62,-5.72],[-5.7,-5.65],[-5.75,-5.5],[-5.62,-5.42],[-5.5,-5.32],[-5.42,-5.2],[-5.32,-5.1],[-5.22,-5.02],[-5.15,-4.92],[-5.05,-4.75],[-4.98,-4.68],[-4.88,-4.5],[-4.78,-4.35],[-4.68,-4.18],[-4.58,-4.05],[-4.48,-3.95],[-4.38,-3.85],[-4.28,-3.75],[-4.15,-3.62],[-4,-3.55],[-3.9,-3.5],[-3.78,-3.48],[-3.68,-3.48],[-3.55,-3.42],[-3.45,-3.35],[-3.2,-3.05],[-3.15,-3],[-3.25,-2.9],[-3.05,-3],[-2.95,-2.95],[-2.85,-3],[-2.75,-3.02],[-2.7,-3.15],[-2.78,-3.25],[-2.9,-3.4],[-3,-3.45],[-3.12,-3.55],[-3.25,-3.68],[-3.35,-3.78],[-3.45,-3.85],[-3.55,-3.92],[-3.65,-3.95],[-3.75,-4],[-3.88,-4.12],[-3.98,-4.25],[-4.08,-4.38],[-4.2,-4.5],[-4.32,-4.65],[-4.42,-4.75],[-4.52,-4.85],[-4.65,-4.92],[-4.78,-5.02],[-4.9,-5.08],[-5,-5.12],[-5.1,-5.2],[-5.22,-5.3],[-5.28,-5.42],[-5.42,-5.48],[-5.15,-5.08],[-5.78,-5.75],[-5.6,-5.55],[-5.78,-5.68],[-5.7,-5.72],[-5.62,-5.62],[-5.52,-5.5],[-5.45,-5.35],[-5.35,-5.22],[-5.25,-5.2],[-5.15,-5.18],[-5.05,-5.2],[-4.95,-5.15],[-4.85,-5.08],[-4.72,-5.08],[-4.6,-4.98],[-4.48,-4.88],[-4.38,-4.72],[-4.25,-4.6],[-4.12,-4.48],[-4.02,-4.32],[-3.9,-4.18],[-3.78,-4.08],[-3.65,-4.02],[-3.52,-3.98],[-3.42,-3.75],[-3.32,-3.68],[-3.22,-3.6],[-3.1,-3.48],[-2.98,-3.35],[-2.85,-3.15],[-2.8,-3.08],[-3,-3.08],[-3.1,-3.12],[-3.22,-3.15],[-3.32,-3.22],[-3.45,-3.22],[-3.58,-3.3],[-3.7,-3.38],[-3.85,-3.42],[-4.05,-3.48],[-4.22,-3.68],[-4.35,-3.78],[-4.45,-3.88],[-4.55,-3.98],[-4.65,-4.1],[-4.75,-4.25],[-4.85,-4.38],[-4.95,-4.55],[-5.03,-4.65],[-5.12,-4.82],[-5.2,-4.92],[-5.3,-5.02],[-5.4,-5.1],[-5.48,-5.22],[-5.58,-5.35]];
const humanGreen: Pt[] = [[-5.15,-5.02],[-5.08,-4.85],[-5,-4.8],[-4.92,-4.62],[-4.82,-4.48],[-4.72,-4.3],[-4.62,-4.18],[-4.5,-4.08],[-4.4,-3.98],[-4.28,-3.85],[-4.18,-3.75],[-4.05,-3.65],[-3.95,-3.6],[-3.85,-3.58],[-3.72,-3.55],[-3.62,-3.55],[-3.5,-3.48],[-3.4,-3.42],[-3.3,-3.35],[-3.42,-3.6],[-3.52,-3.78],[-3.62,-3.85],[-3.72,-3.9],[-3.82,-3.98],[-3.92,-4.1],[-4.02,-4.22],[-4.15,-4.42],[-4.28,-4.55],[-4.38,-4.62],[-4.48,-4.75],[-4.6,-4.82],[-4.72,-4.92],[-4.85,-4.98],[-4.98,-5.02],[-5.08,-5.1],[-3.32,-3.52],[-3.25,-3.45]];
const humanLime: Pt[] = [[-5,-4.92],[-4.92,-4.85],[-4.85,-4.75],[-4.78,-4.62],[-4.72,-4.5],[-4.65,-4.4],[-4.58,-4.3],[-4.5,-4.22],[-4.42,-4.12],[-4.32,-4],[-4.22,-3.9],[-4.12,-3.82],[-4,-3.72],[-3.9,-3.68],[-3.8,-3.68],[-3.72,-3.65],[-3.6,-3.65],[-3.5,-3.58],[-3.4,-3.5],[-3.68,-3.75],[-3.78,-3.85],[-3.88,-3.95],[-4,-4.08],[-4.1,-4.25],[-4.22,-4.38],[-4.35,-4.5],[-4.45,-4.62],[-4.58,-4.72],[-4.7,-4.82],[-4.82,-4.88]];
const humanYellow: Pt[] = [[-4.7,-4.68],[-4.62,-4.58],[-4.55,-4.48],[-4.48,-4.42],[-4.42,-4.32],[-4.35,-4.25],[-4.28,-4.15],[-4.2,-4.08],[-4.12,-3.98],[-4.02,-3.9],[-3.95,-3.85],[-4.58,-4.62],[-4.5,-4.55],[-4.4,-4.45],[-4.3,-4.3],[-4.2,-4.2],[-4.08,-4.08]];

const wildBands = [wildDark, wildPurple, wildBlue, wildTeal, wildSea, wildGreen, wildLime, wildYellow];
const mutantBands = [mutantDark, mutantPurple, mutantBlue, mutantTeal, mutantGreen, mutantLime, mutantYellow];
const coliBands = [coliDark, coliPurple, coliBlue, coliTeal, coliGreen, coliLime, coliYellow];
const humanBands = [humanDark, humanPurple, humanBlue, humanTeal, humanSea, humanGreen, humanLime, humanYellow];

// colour slot of each band in BAND_COLORS
const WILD_SLOTS = [0, 1, 2, 3, 4, 6, 7, 8];
const SMALL_SLOTS = [0, 1, 2, 3, 5, 7, 8];
const HUMAN_SLOTS = [0, 1, 2, 3, 4, 6, 7, 8];

const FIT_A: Pt[] = [[-6, -5.35], [0, -1.33]];
const FIT_B: Pt[] = [[-6, -5.28], [2.07, -.22]];
const FIT_C: Pt[] = [[-5.93, -5.07], [.61, -1.08]];
const FIT_D: Pt[] = [[-5.92, -5.33], [2.03, -.05]];

function toRows(points: Pt[]) {
    return points.map(([x, y]) => ({ x, y }));
}

function minusTick(v: number) {
    return String(v).replace('-', '\u2212');
}

function Dot(props: any) {
    return <circle cx={props.cx} cy={props.cy} r={6.8} fill={props.fill} fillOpacity={0.95} />;
}

interface PlotProps {
    left: number; top: number; width: number; height: number;
    xDomain: number[]; yDomain: number[];
    xTicks: number[]; yTicks: number[];
    bands: Pt[][]; slots: number[]; fit: Pt[];
}

const GUTTER = 130;

function Plot({ left, top, width, height, xDomain, yDomain, xTicks, yTicks, bands, slots, fit }: PlotProps) {
    const tickFont = { fontFamily: 'Liberation Serif', fontSize: 47, fill: INK };
    const tickLine = { stroke: INK, strokeWidth: 5 };
    return (
        <div style={{ position: 'absolute', left: left - GUTTER, top: top - 10 }}>
            <ScatterChart width={width + GUTTER + 10} height={height + 10 + GUTTER} margin={{ top: 10, right: 10, left: 0, bottom: 0 }}>
                <XAxis type="number" dataKey="x" domain={xDomain} ticks={xTicks} allowDataOverflow height={GUTTER} tick={tickFont} tickLine={tickLine} tickSize={12} tickMargin={12} axisLine={false} tickFormatter={minusTick} interval={0} />
                <YAxis type="number" dataKey="y" domain={yDomain} ticks={yTicks} allowDataOverflow width={GUTTER} tick={tickFont} tickLine={tickLine} tickSize={12} tickMargin={6} axisLine={false} tickFormatter={minusTick} interval={0} />
                {bands.map((band, i) => (
                    <Scatter key={i} data={toRows(band)} fill={BAND_COLORS[slots[i]]} shape={Dot} isAnimationActive={false} />
                ))}
                <ReferenceLine segment={[{ x: fit[0][0], y: fit[0][1] }, { x: fit[1][0], y: fit[1][1] }]} stroke={LINE_RED} strokeWidth={12} strokeDasharray="12 14" />
                <ReferenceArea x1={xDomain[0]} x2={xDomain[1]} y1={yDomain[0]} y2={yDomain[1]} fill="none" stroke={INK} strokeWidth={5} />
            </ScatterChart>
        </div>
    );
}

interface BarProps {
    id: string; left: number; top: number; width: number; height: number;
    domain: number[]; ticks: number[]; digits: number;
}

// colour scale beside a plot
function ColorBar({ id, left, top, width, height, domain, ticks, digits }: BarProps) {
    return (
        <div style={{ position: 'absolute', left, top: top - 10 }}>
            <BarChart width={width + 120} height={height + 20} data={[{ name: 'density', level: domain[1] }]} margin={{ top: 10, right: 0, left: 0, bottom: 10 }} barCategoryGap={0}>
                <defs>
                    <linearGradient id={id} x1="0" y1="1" x2="0" y2="0">
                        <stop offset="0%" stopColor="#432b57" />
                        <stop offset="13%" stopColor="#4b3a80" />
                        <stop offset="25%" stopColor="#44578d" />
                        <stop offset="50%" stopColor="#348b8c" />
                        <stop offset="62%" stopColor="#33a983" />
                        <stop offset="75%" stopColor="#6cc069" />
                        <stop offset="88%" stopColor="#b4d04d" />
                        <stop offset="100%" stopColor="#ecd940" />
                    </linearGradient>
                </defs>
                <XAxis dataKey="name" hide />
                <YAxis type="number" orientation="right" domain={domain} ticks={ticks} allowDataOverflow width={120} tick={{ fontFamily: 'DejaVu Sans', fontSize: 33, fill: INK }} tickLine={{ stroke: INK, strokeWidth: 4 }} tickSize={13} tickMargin={10} axisLine={false} tickFormatter={(v: number) => v.toFixed(digits)} interval={0} />
                <Bar dataKey="level" fill={`url(#${id})`} stroke={INK} strokeWidth={5} isAnimationActive={false} />
            </BarChart>
        </div>
    );
}

interface CaptionProps {
    x: number; y: number; size: number; rotate?: number; italic?: boolean; children: React.ReactNode;
}

function Caption({ x, y, size, rotate = 0, italic, children }: CaptionProps) {
    return (
        <div style={{ position: 'absolute', left: x, top: y, transform: `translate(-50%, -50%) rotate(${rotate}deg)`, fontFamily: 'Liberation Serif', fontSize: size, lineHeight: 1, fontStyle: italic ? 'italic' : 'normal', color: INK, whiteSpace: 'nowrap' }}>
            {children}
        </div>
    );
}

function Stats({ x, y, rmse, mae, r, r2, n }: { x: number; y: number; rmse: string; mae: string; r: string; r2: string; n: string }) {
    const row = { height: 44.5, lineHeight: '44.5px' };
    return (
        <div style={{ position: 'absolute', left: x, top: y, fontFamily: 'DejaVu Sans', fontSize: 39.5, color: INK, whiteSpace: 'nowrap' }}>
            <div style={row}>RMSE: {rmse}</div>
            <div style={row}>MAE: {mae}</div>
            <div style={row}>Pearson r: {r}</div>
            <div style={row}><i>R</i><sup style={{ fontSize: 28, lineHeight: 0 }}>2</sup>: {r2}</div>
            <div style={row}>N: {n}</div>
        </div>
    );
}

const XLABEL = 'Log10[experimental Km value]';
const YLABEL = 'Log10[predicted Km value]';
const BARLABEL = 'Density Heat Level';

export default function App() {
    return (
        <div style={{ position: 'absolute', left: 0, top: 0, width: 3284, height: 2667, overflow: 'hidden', background: '#fff' }}>
            <Caption x={112} y={42} size={64}>A</Caption>
            <Caption x={743} y={62} size={67}>Wildt-ype enzyme</Caption>
            <Plot left={154} top={115} width={1175} height={1089} xDomain={[-6.3, .3]} yDomain={[-6.63, -.06]} xTicks={[-6, -5, -4, -3, -2, -1, 0]} yTicks={[-6, -5, -4, -3, -2, -1]} bands={wildBands} slots={WILD_SLOTS} fit={FIT_A} />
            <ColorBar id="barA" left={1403} top={115} width={53} height={1089} domain={[.0018, .2367]} ticks={[.05, .1, .15, .2]} digits={2} />
            <Stats x={212} y={268} rmse="0.7569" mae="0.5400" r="0.7744" r2="0.5997" n="1550" />
            <Caption x={733} y={1300} size={47}>{XLABEL}</Caption>
            <Caption x={42} y={676} size={47} rotate={-90}>{YLABEL}</Caption>
            <Caption x={1585} y={672} size={46} rotate={90}>{BARLABEL}</Caption>

            <Caption x={1822} y={40} size={64}>B</Caption>
            <Caption x={2385} y={62} size={67}>Mutant enzyme</Caption>
            <Plot left={1800} top={119} width={1159} height={1078} xDomain={[-6.4, 2.47]} yDomain={[-6.42, 1.98]} xTicks={[-6, -5, -4, -3, -2, -1, 0, 1, 2]} yTicks={[-6, -5, -4, -3, -2, -1, 0, 1]} bands={mutantBands} slots={SMALL_SLOTS} fit={FIT_B} />
            <ColorBar id="barB" left={3030} top={119} width={54} height={1078} domain={[.0034, .2214]} ticks={[.025, .05, .075, .1, .125, .15, .175, .2]} digits={3} />
            <Stats x={1858} y={272} rmse="0.8159" mae="0.5633" r="0.7544" r2="0.5691" n="475" />
            <Caption x={2385} y={1300} size={47}>{XLABEL}</Caption>
            <Caption x={1703} y={676} size={47} rotate={-90}>{YLABEL}</Caption>
            <Caption x={3247} y={672} size={46} rotate={90}>{BARLABEL}</Caption>

            <Caption x={112} y={1404} size={64}>C</Caption>
            <Caption x={735} y={1407} size={67} italic>E. coli</Caption>
            <Plot left={152} top={1446} width={1159} height={1079} xDomain={[-6.33, .93]} yDomain={[-6.2, -.48]} xTicks={[-6, -5, -4, -3, -2, -1, 0]} yTicks={[-6, -5, -4, -3, -2, -1]} bands={coliBands} slots={SMALL_SLOTS} fit={FIT_C} />
            <ColorBar id="barC" left={1383} top={1446} width={55} height={1079} domain={[.0028, .2175]} ticks={[.025, .05, .075, .1, .125, .15, .175, .2]} digits={3} />
            <Stats x={210} y={1599} rmse="0.8280" mae="0.5984" r="0.7277" r2="0.5296" n="593" />
            <Caption x={733} y={2619} size={47}>{XLABEL}</Caption>
            <Caption x={42} y={2005} size={47} rotate={-90}>{YLABEL}</Caption>
            <Caption x={1585} y={1992} size={46} rotate={90}>{BARLABEL}</Caption>

            <Caption x={1820} y={1404} size={64}>D</Caption>
            <Caption x={2387} y={1393} size={67} italic>H. sapiens</Caption>
            <Plot left={1800} top={1437} width={1176} height={1095} xDomain={[-6.4, 2.47]} yDomain={[-6.73, 2]} xTicks={[-6, -5, -4, -3, -2, -1, 0, 1, 2]} yTicks={[-6, -5, -4, -3, -2, -1, 0, 1]} bands={humanBands} slots={HUMAN_SLOTS} fit={FIT_D} />
            <ColorBar id="barD" left={3049} top={1437} width={54} height={1095} domain={[.0019, .2449]} ticks={[.05, .1, .15, .2]} digits={2} />
            <Stats x={1859} y={1598} rmse="0.7463" mae="0.5235" r="0.7820" r2="0.6116" n="1432" />
            <Caption x={2385} y={2619} size={47}>{XLABEL}</Caption>
            <Caption x={1683} y={2005} size={47} rotate={-90}>{YLABEL}</Caption>
            <Caption x={3247} y={1992} size={46} rotate={90}>{BARLABEL}</Caption>
        </div>
    );
}
